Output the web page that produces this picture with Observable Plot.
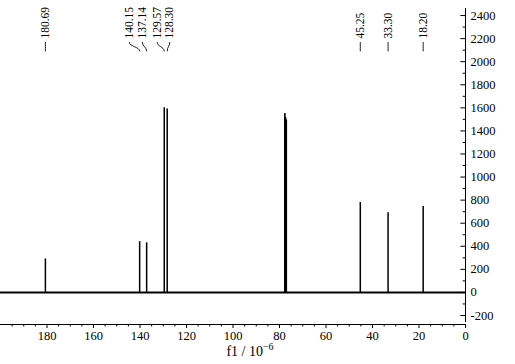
<!DOCTYPE html>
<html><head><meta charset="utf-8">
<script src="https://cdn.jsdelivr.net/npm/d3@7"></script>
<script src="https://cdn.jsdelivr.net/npm/@observablehq/plot@0.6"></script>
<style>body{margin:0;background:#fff}#chart{width:515px;height:364px}</style>
</head><body><div id="chart"></div>
<script>
// Peaks (ppm) and intensities
const shifts = [180.69, 140.15, 137.14, 129.57, 128.30, 45.25, 33.30, 18.20];
const heights = [290, 440, 430, 1600, 1590, 780, 690, 745];
const labels = ["180.69", "140.15", "137.14", "129.57", "128.30", "45.25", "33.30", "18.20"];
// where each peak label sits along the shift axis (cluster labels are spread)
const labelPos = [180.69, 144.6, 139.0, 132.6, 127.2, 45.25, 33.30, 18.20];
// solvent (CDCl3) triplet
const solventShifts = [77.7, 77.4, 77.1];
const solventHeights = [1550, 1515, 1495];
// ticks
const xTicks = [180, 160, 140, 120, 100, 80, 60, 40, 20, 0];
const xMinor = [195, 190, 185, 175, 170, 165, 155, 150, 145, 135, 130, 125, 115, 110, 105, 95, 90, 85, 75, 70, 65, 55, 50, 45, 35, 30, 25, 15, 10, 5];
const yTicks = [-200, 0, 200, 400, 600, 800, 1000, 1200, 1400, 1600, 1800, 2000, 2200, 2400];
const yMinor = [-100, 100, 300, 500, 700, 900, 1100, 1300, 1500, 1700, 1900, 2100, 2300];
const xLabel = "f1 / 10";
const xLabelSup = "\u22126";

const peaks = shifts.map((s, i) => ({shift: s, h: heights[i], label: labels[i], lp: labelPos[i]}));
const solvent = solventShifts.map((s, i) => ({shift: s, h: solventHeights[i]}));

const font = "'Liberation Serif', 'Times New Roman', serif";
const chart = Plot.plot({
  width: 515,
  height: 364,
  marginLeft: 0,
  marginRight: 50,
  marginTop: 8,
  marginBottom: 40,
  style: {fontFamily: font, background: "#fff", color: "#000", overflow: "visible"},
  x: {domain: [200, 0]},
  y: {domain: [-278, 2461]},
  marks: [
    // baseline
    Plot.ruleY([0], {stroke: "#000", strokeWidth: 1.9}),
    // peaks
    Plot.ruleX(peaks, {x: "shift", y1: 0, y2: "h", stroke: "#000", strokeWidth: 1.5}),
    Plot.ruleX(solvent, {x: "shift", y1: 0, y2: "h", stroke: "#000", strokeWidth: 1.7}),
    // peak labels
    Plot.link(peaks, {x1: "shift", x2: "lp", y1: 2090, y2: 2170, curve: "bump-y", stroke: "#000", strokeWidth: 0.9}),
    Plot.text(peaks, {x: "lp", text: "label", rotate: -90, textAnchor: "start", lineAnchor: "middle", frameAnchor: "top", dy: 30, fontSize: 11.5, fill: "#000"}),
    // x axis
    Plot.ruleY([-278], {stroke: "#000", strokeWidth: 1}),
    Plot.axisX({ticks: xTicks, tickSize: 4, tickPadding: 3, tickFormat: d => String(d), fontSize: 12.5, label: null}),
    Plot.axisX({ticks: xMinor, tickSize: 2.5, tickFormat: () => "", label: null}),
    Plot.text([xLabel], {frameAnchor: "bottom", dx: 17, dy: 31, fontSize: 14, fill: "#000", className: "xlabel"}),
    // y axis (right)
    Plot.ruleX([0], {y1: -261, y2: 2461, stroke: "#000", strokeWidth: 1}),
    Plot.ruleY(yTicks, {y: d => d, x1: 0, x2: 2, stroke: "#000"}),
    Plot.ruleY(yMinor, {y: d => d, x1: 0, x2: 1, stroke: "#000"}),
    Plot.axisY({anchor: "right", ticks: yTicks, tickSize: 0, tickPadding: 5, tickFormat: d => String(d), fontSize: 12.5, label: null})
  ]
});
document.getElementById("chart").appendChild(chart);
// superscript exponent on the axis title
const t = chart.querySelector(".xlabel text");
if (t) {
  const ns = "http://www.w3.org/2000/svg";
  const sup = document.createElementNS(ns, "tspan");
  sup.setAttribute("dy", "-6");
  sup.setAttribute("font-size", "10");
  sup.textContent = xLabelSup;
  t.appendChild(sup);
}
</script>
</body></html>
